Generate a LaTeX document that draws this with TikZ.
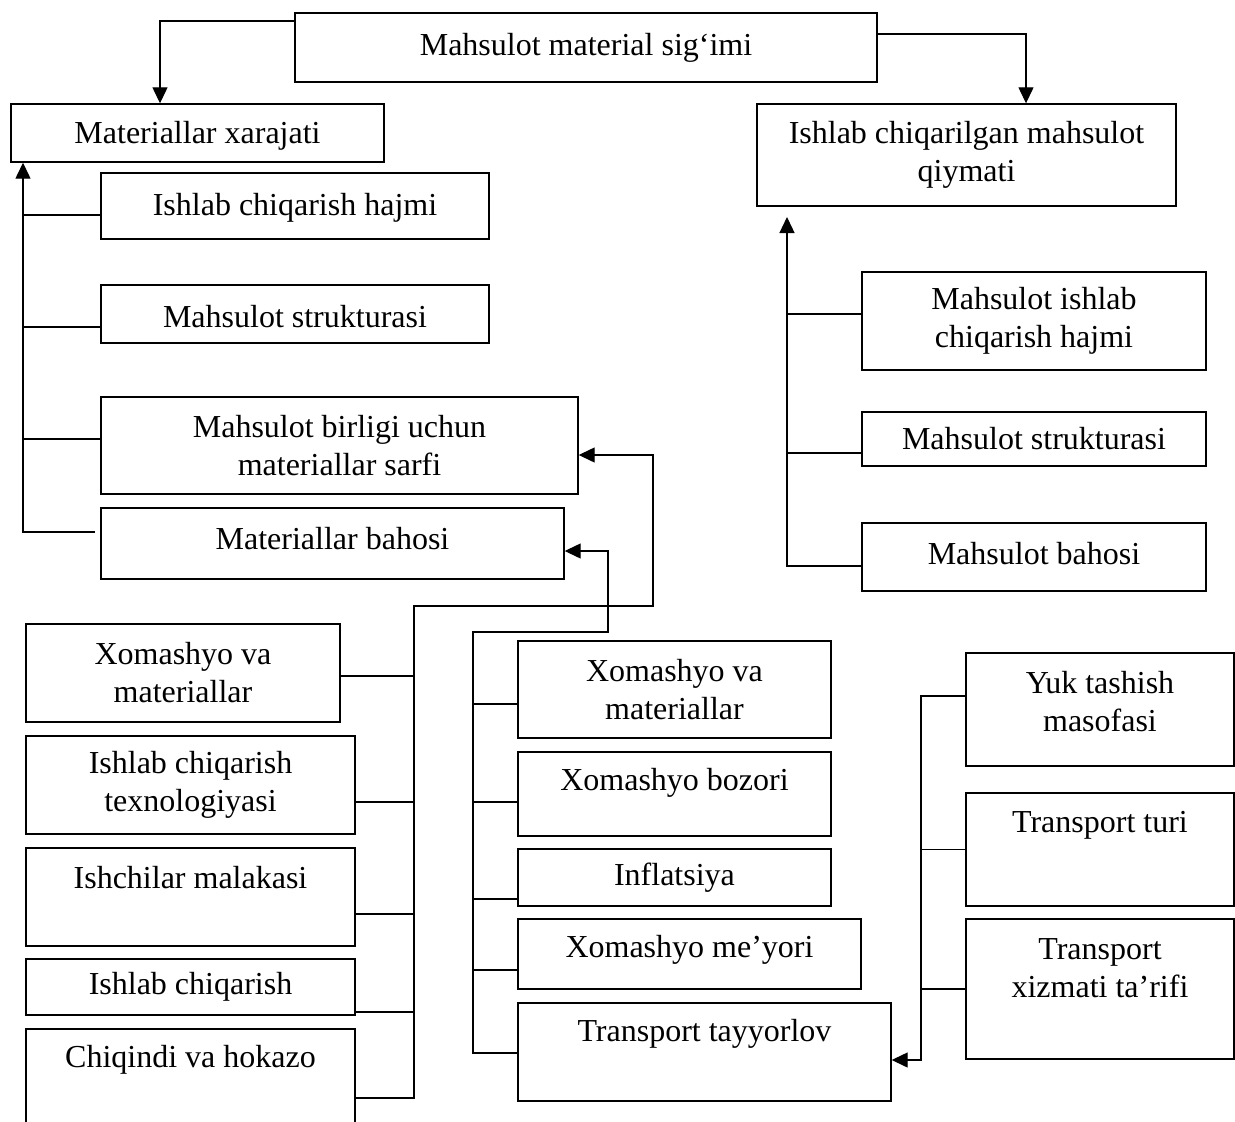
\documentclass[tikz,border=0pt]{standalone}
\usepackage{fontspec}
\setmainfont{Liberation Serif}
\usetikzlibrary{arrows.meta}
\begin{document}
\begin{tikzpicture}[x=1pt,y=-1pt,
  box/.style={draw, line width=1.4pt, inner sep=0pt, align=center, font=\fontsize{32}{38}\selectfont},
  txt/.style={inner sep=0pt, align=center, font=\fontsize{32}{38}\selectfont},
  wh/.style 2 args={minimum width=#1pt, minimum height=#2pt},
  lower/.style={execute at begin node={\rule{0pt}{#1pt}}},
  ln/.style={line width=1.3pt},
  arr/.style={ln, -{Triangle[length=16pt,width=15pt]}}]
\useasboundingbox (0,0) rectangle (1235,1122);
\fill[white] (0,0) rectangle (1235,1122);
% top level
\node[box, wh={582}{69}] (top) at (586,47.5) {Mahsulot material sig‘imi};
\node[box, wh={373}{58}, lower=28] (mx) at (197.5,133) {Materiallar xarajati};
\node[box, wh={419}{102}] (qiy) at (966.5,155) {Ishlab chiqarilgan mahsulot\\qiymati};
% left upper column
\node[box, wh={388}{66}, lower=26] (hajm) at (295,206) {Ishlab chiqarish hajmi};
\node[box, wh={388}{58}, lower=28] (strL) at (295,314) {Mahsulot strukturasi};
\node[box, wh={477}{97}] (sarf) at (339.5,445.5) {Mahsulot birligi uchun\\materiallar sarfi};
\node[box, wh={463}{71}] (bah) at (332.5,543.5) {};
\node[txt] (baht) at (332.5,539) {Materiallar bahosi};
% right column
\node[box, wh={344}{98}, lower=28] (r1) at (1034,321) {Mahsulot ishlab\\chiqarish hajmi};
\node[box, wh={344}{54}] (r2) at (1034,439) {Mahsulot strukturasi};
\node[box, wh={344}{68}] (r3) at (1034,557) {};
\node[txt] (r3t) at (1034,554) {Mahsulot bahosi};
% left lower column
\node[box, wh={314}{98}] (l1) at (183,673) {Xomashyo va\\materiallar};
\node[box, wh={329}{98}] (l2) at (190.5,785) {Ishlab chiqarish\\texnologiyasi};
\node[box, wh={329}{98}] (l3) at (190.5,897) {};
\node[txt] (l3t) at (190.5,878) {Ishchilar malakasi};
\node[box, wh={329}{56}] (l4) at (190.5,987) {Ishlab chiqarish};
\node[box, wh={329}{101}] (l5) at (190.5,1079.5) {};
\node[txt] (l5t) at (190.5,1060) {Chiqindi va hokazo};
% middle column
\node[box, wh={313}{97}] (m1) at (674.5,689.5) {Xomashyo va\\materiallar};
\node[box, wh={313}{84}] (m2) at (674.5,794) {};
\node[txt] (m2t) at (674.5,783) {Xomashyo bozori};
\node[box, wh={313}{57}] (m3) at (674.5,877.5) {Inflatsiya};
\node[box, wh={343}{70}] (m4) at (689.5,954) {};
\node[txt] (m4t) at (689.5,950) {Xomashyo me’yori};
\node[box, wh={373}{98}] (m5) at (704.5,1052) {};
\node[txt] (m5t) at (704.5,1034) {Transport tayyorlov};
% transport column
\node[box, wh={268}{113}] (tA) at (1100,709.5) {};
\node[txt] (tAt) at (1100,702) {Yuk tashish\\masofasi};
\node[box, wh={268}{113}] (tB) at (1100,849.5) {};
\node[txt] (tBt) at (1100,825) {Transport turi};
\node[box, wh={268}{140}] (tC) at (1100,989) {};
\node[txt] (tCt) at (1100,968) {Transport\\xizmati ta’rifi};

% coordinates of bends
\coordinate (a1) at (160,21);
\coordinate (a2) at (1026,34);
\coordinate (lb) at (23,532);
\coordinate (lbe) at (95,532);
\coordinate (rtip) at (787,217);
\coordinate (k1) at (414,606);
\coordinate (k2) at (653,606);
\coordinate (n1) at (473,632);
\coordinate (n2) at (608,632);
\coordinate (tb) at (921,1060);

% top connectors
\draw[arr] (top.west |- a1) -- (a1) -- (a1 |- mx.north);
\draw[arr] (top.east |- a2) -- (a2) -- (a2 |- qiy.north);

% left upper bus
\draw[arr] (lbe) -- (lb) -- (lb |- mx.south);
\draw[ln] ([yshift=-9pt]hajm.west) -- ([yshift=-9pt]hajm.west -| lb);
\draw[ln] ([yshift=-13pt]strL.west) -- ([yshift=-13pt]strL.west -| lb);
\draw[ln] ([yshift=6.5pt]sarf.west) -- ([yshift=6.5pt]sarf.west -| lb);

% right bus
\draw[arr] ([yshift=-9pt]r3.west) -| (rtip);
\draw[ln] ([yshift=7pt]r1.west) -- ([yshift=7pt]r1.west -| rtip);
\draw[ln] ([yshift=-14pt]r2.west) -- ([yshift=-14pt]r2.west -| rtip);

% left lower bus to sarf
\draw[arr] ([yshift=-18.5pt]l5.east) -| (k1) -- (k2) |- ([yshift=-9.5pt]sarf.east);
\draw[ln] ([yshift=-3pt]l1.east) -- ([yshift=-3pt]l1.east -| k1);
\draw[ln] ([yshift=-17pt]l2.east) -- ([yshift=-17pt]l2.east -| k1);
\draw[ln] ([yshift=-17pt]l3.east) -- ([yshift=-17pt]l3.east -| k1);
\draw[ln] ([yshift=-25pt]l4.east) -- ([yshift=-25pt]l4.east -| k1);

% middle bus to bah
\draw[arr] ([yshift=-1pt]m5.west) -| (n1) -- (n2) |- ([yshift=-7.5pt]bah.east);
\draw[ln] ([yshift=-14.5pt]m1.west) -- ([yshift=-14.5pt]m1.west -| n1);
\draw[ln] ([yshift=-8pt]m2.west) -- ([yshift=-8pt]m2.west -| n1);
\draw[ln] ([yshift=-21.5pt]m3.west) -- ([yshift=-21.5pt]m3.west -| n1);
\draw[ln] ([yshift=-16pt]m4.west) -- ([yshift=-16pt]m4.west -| n1);

% transport bus to m5
\draw[arr] ([yshift=13.5pt]tA.west) -| (tb) -- (tb -| m5.east);
\draw[ln] (tB.west) -- (tB.west -| tb);
\draw[ln] (tC.west) -- (tC.west -| tb);
\end{tikzpicture}
\end{document}
